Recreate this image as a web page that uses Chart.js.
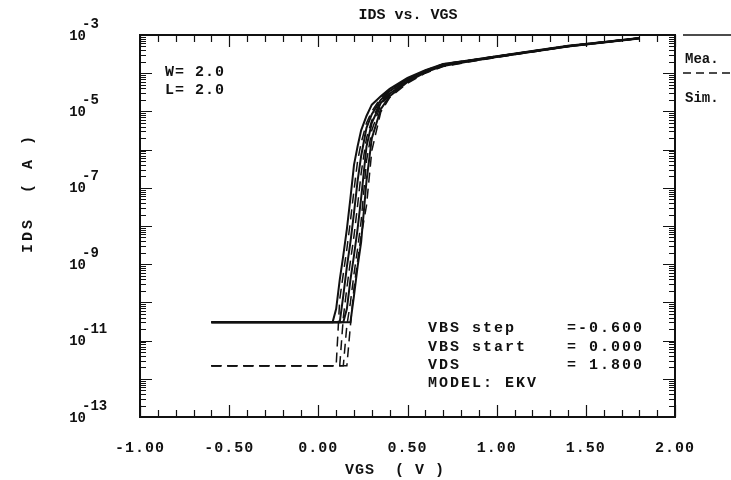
<!DOCTYPE html>
<html>
<head>
<meta charset="utf-8">
<script src="https://cdn.jsdelivr.net/npm/chart.js@4.4.0/dist/chart.umd.min.js"></script>
<style>
  html, body { margin: 0; padding: 0; background: #fff; }
  #wrap { width: 731px; height: 480px; }
</style>
</head>
<body>
<div id="wrap"><canvas id="ids" width="731" height="480"></canvas></div>
<script>
/* IDS vs. VGS — courbes mesurées (trait plein) et simulées EKV (tirets), VBS = 0, -0.6, -1.2, -1.8 */

const VGS = [-0.6, -0.3, 0.0, 0.05, 0.08, 0.10, 0.12, 0.14, 0.16, 0.18, 0.20, 0.22, 0.24, 0.27,
             0.30, 0.35, 0.40, 0.50, 0.60, 0.70, 0.85, 1.0, 1.2, 1.4, 1.6, 1.8];

// mesures
const meaVbs0  = [3e-11, 3e-11, 3e-11, 3e-11, 3e-11, 6.8e-11, 3.9e-10, 1.7e-9, 8.3e-9, 5.4e-8, 4e-7, 1.2e-6, 3.2e-6, 7.6e-6,
                  1.5e-5, 2.5e-5, 3.9e-5, 7.5e-5, 1.2e-4, 1.75e-4, 2.2e-4, 2.8e-4, 3.8e-4, 5.2e-4, 6.6e-4, 8.3e-4];
const meaVbs06 = [3e-11, 3e-11, 3e-11, 3e-11, 3e-11, 3e-11, 3e-11, 1.5e-10, 8.5e-10, 3.8e-9, 2.2e-8, 1.5e-7, 6.8e-7, 3.7e-6,
                  8.5e-6, 2e-5, 3.4e-5, 7e-5, 1.15e-4, 1.7e-4, 2.15e-4, 2.75e-4, 3.75e-4, 5.1e-4, 6.5e-4, 8.2e-4];
const meaVbs12 = [3e-11, 3e-11, 3e-11, 3e-11, 3e-11, 3e-11, 3e-11, 3e-11, 6.8e-11, 3.9e-10, 1.7e-9, 8.3e-9, 5.4e-8, 1.2e-6,
                  5e-6, 1.65e-5, 2.9e-5, 6.3e-5, 1.08e-4, 1.65e-4, 2.1e-4, 2.7e-4, 3.7e-4, 5.1e-4, 6.5e-4, 8.2e-4];
const meaVbs18 = [3e-11, 3e-11, 3e-11, 3e-11, 3e-11, 3e-11, 3e-11, 3e-11, 3e-11, 3e-11, 1.5e-10, 8.5e-10, 3.8e-9, 1.5e-7,
                  2e-6, 1.15e-5, 2.5e-5, 5.9e-5, 1.05e-4, 1.55e-4, 2.05e-4, 2.65e-4, 3.65e-4, 5e-4, 6.4e-4, 8.1e-4];

// simulation EKV
const simVbs0  = [2.2e-12, 2.2e-12, 2.2e-12, 2.2e-12, 2.2e-12, 2.2e-12, 1.2e-10, 5.6e-10, 2.5e-9, 1.35e-8, 8.7e-8, 5e-7, 1.5e-6, 5e-6,
                  1e-5, 2.3e-5, 3.6e-5, 7.3e-5, 1.18e-4, 1.75e-4, 2.2e-4, 2.8e-4, 3.8e-4, 5.2e-4, 6.6e-4, 8.4e-4];
const simVbs06 = [2.2e-12, 2.2e-12, 2.2e-12, 2.2e-12, 2.2e-12, 2.2e-12, 2.2e-12, 4e-11, 2.4e-10, 1.2e-9, 5.5e-9, 3.4e-8, 2.4e-7, 2e-6,
                  5.9e-6, 1.9e-5, 3e-5, 6.6e-5, 1.1e-4, 1.65e-4, 2.15e-4, 2.75e-4, 3.75e-4, 5.15e-4, 6.55e-4, 8.3e-4];
const simVbs12 = [2.2e-12, 2.2e-12, 2.2e-12, 2.2e-12, 2.2e-12, 2.2e-12, 2.2e-12, 2.2e-12, 2.5e-11, 1e-10, 5.6e-10, 2.5e-9, 1.35e-8, 5e-7,
                  3.2e-6, 1.5e-5, 2.7e-5, 6.1e-5, 1.05e-4, 1.55e-4, 2.1e-4, 2.65e-4, 3.7e-4, 5.05e-4, 6.45e-4, 8.2e-4];
const simVbs18 = [2.2e-12, 2.2e-12, 2.2e-12, 2.2e-12, 2.2e-12, 2.2e-12, 2.2e-12, 2.2e-12, 2.2e-12, 2.5e-11, 2.4e-10, 1.2e-9, 5.5e-9, 3.4e-8,
                  9.4e-7, 9.6e-6, 2.3e-5, 5.5e-5, 1e-4, 1.5e-4, 2e-4, 2.6e-4, 3.6e-4, 5e-4, 6.4e-4, 8.1e-4];

const xTickVals   = [-1.0, -0.5, 0.0, 0.5, 1.0, 1.5, 2.0];
const xTickLabels = ['-1.00', '-0.50', '0.00', '0.50', '1.00', '1.50', '2.00'];
const yTickExps   = [-3, -5, -7, -9, -11, -13];

const MONO = '"Liberation Mono", "DejaVu Sans Mono", monospace';
const INK = '#111';

function toPts(ys) { return VGS.map((v, i) => ({ x: v, y: ys[i] })); }

function curve(ys, dashed) {
  return {
    data: toPts(ys),
    borderColor: INK,
    borderWidth: dashed ? 1.5 : 2,
    borderDash: dashed ? [10, 6] : [],
    pointRadius: 0,
    tension: 0,
    fill: false
  };
}

/* cadre, graduations vers l'intérieur, textes */
const framePlugin = {
  id: 'frame',
  afterDatasetsDraw(chart) {
    const { ctx, chartArea: a, scales: { x, y } } = chart;
    ctx.save();
    ctx.strokeStyle = INK;
    ctx.fillStyle = INK;

    // graduations x (0.1 / majeures 0.5)
    ctx.lineWidth = 1.2;
    for (let i = 0; i <= 30; i++) {
      const px = Math.round(x.getPixelForValue(-1 + i * 0.1)) + 0.5;
      const len = i % 5 === 0 ? 12 : 7;
      ctx.beginPath();
      ctx.moveTo(px, a.bottom); ctx.lineTo(px, a.bottom - len);
      ctx.moveTo(px, a.top);    ctx.lineTo(px, a.top + len);
      ctx.stroke();
    }
    // graduations y log
    for (let e = -13; e <= -3; e++) {
      for (let m = 1; m <= 9; m++) {
        if (e === -3 && m > 1) break;
        const py = Math.round(y.getPixelForValue(m * Math.pow(10, e))) + 0.5;
        const len = m === 1 ? 12 : 6;
        ctx.beginPath();
        ctx.moveTo(a.left, py);  ctx.lineTo(a.left + len, py);
        ctx.moveTo(a.right, py); ctx.lineTo(a.right - len, py);
        ctx.stroke();
      }
    }

    ctx.lineWidth = 2;
    ctx.strokeRect(a.left, a.top, a.right - a.left, a.bottom - a.top);

    // étiquettes x
    ctx.font = 'bold 15px ' + MONO;
    ctx.letterSpacing = '1px';
    ctx.textAlign = 'center';
    ctx.textBaseline = 'middle';
    xTickVals.forEach((v, i) => ctx.fillText(xTickLabels[i], x.getPixelForValue(v), 448));

    // étiquettes y  10^n
    yTickExps.forEach(e => {
      const py = y.getPixelForValue(Math.pow(10, e));
      ctx.font = 'bold 14px ' + MONO;
      ctx.letterSpacing = '0px';
      ctx.textAlign = 'right';
      ctx.fillText('10', 86, py + 1);
      ctx.textAlign = 'left';
      ctx.fillText(String(e), 82, py - 11);
    });

    // titres
    ctx.font = 'bold 15px ' + MONO;
    ctx.letterSpacing = '0px';
    ctx.textAlign = 'center';
    ctx.fillText('IDS vs. VGS', 408, 15);
    ctx.letterSpacing = '1px';
    ctx.fillText('VGS  ( V )', 395, 470);
    ctx.save();
    ctx.translate(28, 193);
    ctx.rotate(-Math.PI / 2);
    ctx.letterSpacing = '3px';
    ctx.fillText('IDS  ( A )', 0, 0);
    ctx.restore();

    // W / L
    ctx.textAlign = 'left';
    ctx.letterSpacing = '1px';
    ctx.fillText('W= 2.0', 165, 72);
    ctx.fillText('L= 2.0', 165, 90);

    // conditions de polarisation
    const rows = [['VBS step', '=-0.600', 328], ['VBS start', '= 0.000', 347],
                  ['VDS', '= 1.800', 365]];
    ctx.letterSpacing = '2px';
    rows.forEach(r => {
      ctx.textAlign = 'left';
      ctx.fillText(r[0], 428, r[2]);
      ctx.textAlign = 'right';
      ctx.fillText(r[1], 644, r[2]);
    });
    ctx.textAlign = 'left';
    ctx.fillText('MODEL: EKV', 428, 383);

    // légende à droite
    ctx.lineWidth = 1.5;
    ctx.beginPath(); ctx.moveTo(683, 35); ctx.lineTo(731, 35); ctx.stroke();
    ctx.setLineDash([8, 5]);
    ctx.beginPath(); ctx.moveTo(683, 73); ctx.lineTo(731, 73); ctx.stroke();
    ctx.setLineDash([]);
    ctx.font = 'bold 14px ' + MONO;
    ctx.letterSpacing = '0px';
    ctx.fillText('Mea.', 685, 59);
    ctx.fillText('Sim.', 685, 98);

    ctx.restore();
  }
};

new Chart(document.getElementById('ids'), {
  type: 'line',
  data: {
    datasets: [
      curve(meaVbs0, false), curve(meaVbs06, false), curve(meaVbs12, false), curve(meaVbs18, false),
      curve(simVbs0, true), curve(simVbs06, true), curve(simVbs12, true), curve(simVbs18, true)
    ]
  },
  options: {
    responsive: false,
    animation: false,
    layout: { padding: { left: 140, right: 56, top: 35, bottom: 63 } },
    plugins: { legend: { display: false }, tooltip: { enabled: false } },
    scales: {
      x: { type: 'linear', min: -1, max: 2, display: false },
      y: { type: 'logarithmic', min: 1e-13, max: 1e-3, display: false }
    }
  },
  plugins: [framePlugin]
});
</script>
</body>
</html>
